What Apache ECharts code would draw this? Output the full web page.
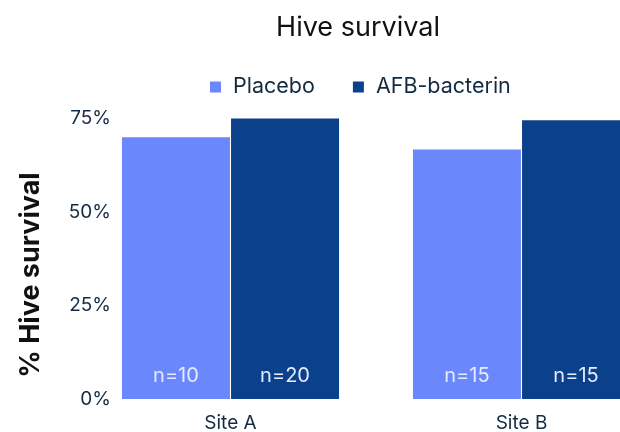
<!DOCTYPE html>
<html>
<head>
<meta charset="utf-8">
<script src="https://cdn.jsdelivr.net/npm/echarts@6/dist/echarts.min.js"></script>
<style>
  html, body { margin: 0; padding: 0; background: #fff; }
  #chart { width: 620px; height: 432px; }
</style>
</head>
<body>
<div id="chart"></div>
<script>
// data
const sites = ['Site A', 'Site B']
const placebo = [70, 66.7]
const bacterin = [75, 74.5]
const placeboN = ['n=10', 'n=15']
const bacterinN = ['n=20', 'n=15']
const yTicks = [0, 25, 50, 75]

const textColor = '#132b42'
const font = 'Inter'

const chart = echarts.init(document.getElementById('chart'))

const nLabel = (names) => ({
  show: true,
  position: 'insideBottom',
  distance: 13,
  color: '#e4ebff',
  fontFamily: font,
  fontSize: 20,
  formatter: (p) => names[p.dataIndex]
})

const option = {
  animation: false,
  title: {
    text: 'Hive survival',
    left: 353,
    textAlign: 'center',
    top: 9,
    textStyle: { color: '#111', fontFamily: font, fontSize: 27, fontWeight: 'normal' }
  },
  legend: {
    top: 71,
    left: 205,
    icon: 'rect',
    itemWidth: 11,
    itemHeight: 11,
    itemGap: 38,
    textStyle: { color: textColor, fontFamily: font, fontSize: 21.5, padding: [0, 0, 0, 7] }
  },
  // plot area runs past the right edge, like the original
  grid: {
    left: 85,
    width: 582,
    top: 118.5,
    bottom: 33,
    outerBoundsMode: 'none'
  },
  xAxis: {
    type: 'category',
    data: sites,
    axisLine: { show: false },
    axisTick: { show: false },
    axisLabel: { color: textColor, fontFamily: font, fontSize: 19, margin: 15 }
  },
  yAxis: {
    type: 'value',
    min: 0,
    max: yTicks[yTicks.length - 1],
    interval: 25,
    splitLine: { show: false },
    axisLabel: {
      color: textColor,
      fontFamily: font,
      fontSize: 19,
      margin: -26,
      formatter: '{value}%'
    }
  },
  graphic: [{
    type: 'text',
    x: 31,
    y: 275,
    rotation: Math.PI / 2,
    style: {
      text: '% Hive survival',
      fill: '#111',
      font: 'bold 27px ' + font,
      textAlign: 'center',
      textVerticalAlign: 'middle'
    }
  }],
  series: [
    {
      name: 'Placebo',
      type: 'bar',
      data: placebo,
      barWidth: 108,
      barGap: '1%',
      itemStyle: { color: '#6a87fc' },
      label: nLabel(placeboN)
    },
    {
      name: 'AFB-bacterin',
      type: 'bar',
      data: bacterin,
      barWidth: 108,
      itemStyle: { color: '#0b408a' },
      label: nLabel(bacterinN)
    }
  ]
}

chart.setOption(option)
</script>
</body>
</html>
